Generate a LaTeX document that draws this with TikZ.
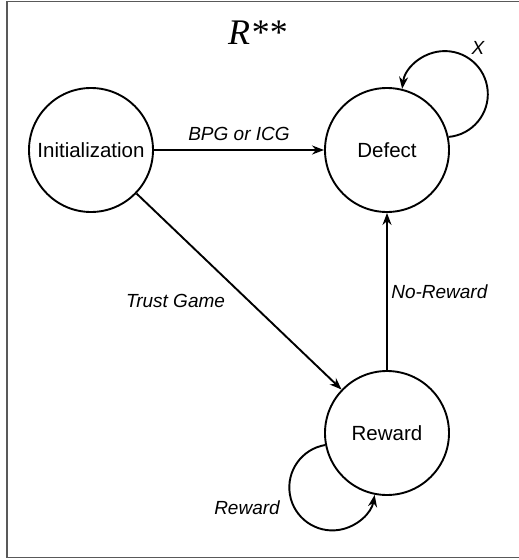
\documentclass[tikz,border=0pt]{standalone}
\usepackage{fontspec}
\setmainfont{Liberation Sans}
\newfontfamily\titlefont{Liberation Serif}
\usetikzlibrary{arrows.meta}

\begin{document}
\begin{tikzpicture}[x=1pt,y=1pt,
    state/.style={circle, draw, line width=1.9pt, minimum size=124pt, inner sep=0pt, font=\fontsize{20.5}{24}\selectfont},
    trans/.style={line width=1.9pt, -{Stealth[length=12pt,width=9pt]}},
    lab/.style={font=\fontsize{19}{22}\selectfont\itshape}]

    \useasboundingbox (0,0) rectangle (519,-560);
    \draw [line width=1.8pt, black!65] (519,-1.5) -- (7,-1.5) -- (7,-557.5) -- (519,-557.5);

    \node (T) at (257,-33) {\titlefont\itshape\fontsize{36}{40}\selectfont R**};

    \node [state] (I) at (91,-150) {Initialization};
    \node [state] (D) at (387,-150) {Defect};
    \node [state] (W) at (387,-433) {Reward};

    \draw [trans] (I) -- node [lab, above=5pt] (L1) {BPG or ICG} (D);
    \draw [trans] (I) -- node [lab, pos=0.55, left=20pt] (L2) {Trust Game} (W);
    \draw [trans] (W) -- node [lab, right] (L3) {No-Reward} (D);

    % self loops
    \draw [trans] (D.12) arc [start angle=-85, end angle=173, radius=43];
    \node [lab] (X) at (478,-48) {X};

    \draw [trans] (W.191) arc [start angle=99.5, end angle=350, radius=43];
    \node [lab] (L4) at (247,-508) {Reward};

\end{tikzpicture}
\end{document}
